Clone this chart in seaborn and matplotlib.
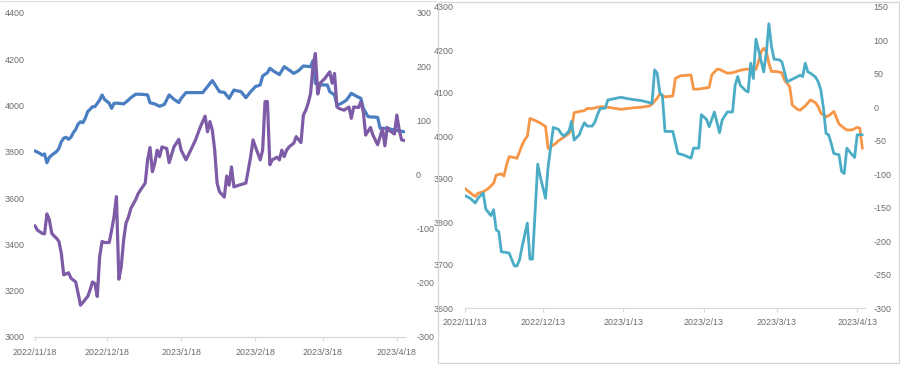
import matplotlib
matplotlib.use("Agg")
import matplotlib.pyplot as plt
import matplotlib.dates as mdates
from matplotlib.patches import Rectangle
from matplotlib.lines import Line2D
import seaborn as sns
import pandas as pd

# ---------------- data: left chart ----------------
left_price_dates = [
    "2022-11-18", "2022-11-20", "2022-11-21", "2022-11-22", "2022-11-23", "2022-11-24", "2022-11-25",
    "2022-11-27", "2022-11-28", "2022-11-29", "2022-11-30", "2022-12-01", "2022-12-02", "2022-12-03",
    "2022-12-04", "2022-12-05", "2022-12-06", "2022-12-07", "2022-12-08", "2022-12-09", "2022-12-10",
    "2022-12-11", "2022-12-12", "2022-12-13", "2022-12-15", "2022-12-16", "2022-12-17", "2022-12-19",
    "2022-12-20", "2022-12-21", "2022-12-23", "2022-12-25", "2022-12-27", "2022-12-28", "2022-12-30",
    "2023-01-01", "2023-01-04", "2023-01-05", "2023-01-07", "2023-01-09", "2023-01-11", "2023-01-13",
    "2023-01-15", "2023-01-17", "2023-01-18", "2023-01-20", "2023-01-27", "2023-01-29", "2023-01-31",
    "2023-02-03", "2023-02-05", "2023-02-07", "2023-02-09", "2023-02-12", "2023-02-14", "2023-02-16",
    "2023-02-18", "2023-02-20", "2023-02-21", "2023-02-23", "2023-02-24", "2023-02-26", "2023-02-28",
    "2023-03-02", "2023-03-04", "2023-03-06", "2023-03-08", "2023-03-10", "2023-03-13", "2023-03-14",
    "2023-03-15", "2023-03-18", "2023-03-20", "2023-03-21", "2023-03-23", "2023-03-24", "2023-03-26",
    "2023-03-28", "2023-03-30", "2023-04-01", "2023-04-03", "2023-04-04", "2023-04-06", "2023-04-10",
    "2023-04-11", "2023-04-14", "2023-04-17", "2023-04-21",
]
left_price = [
    3804, 3794, 3786, 3791, 3753, 3776, 3786,
    3801, 3815, 3844, 3859, 3863, 3854, 3863,
    3883, 3897, 3920, 3930, 3926, 3945, 3974,
    3984, 3995, 3995, 4024, 4046, 4027, 4010,
    3988, 4010, 4010, 4007, 4024, 4034, 4049,
    4049, 4046, 4012, 4007, 3997, 4005, 4046,
    4027, 4013, 4031, 4056, 4056, 4082, 4108,
    4060, 4057, 4031, 4067, 4060, 4034, 4060,
    4082, 4089, 4128, 4142, 4161, 4146, 4134,
    4168, 4154, 4139, 4151, 4171, 4168, 4194,
    4096, 4089, 4089, 4060, 4046, 4002, 4010,
    4024, 4053, 4041, 4031, 3988, 3952, 3949,
    3902, 3902, 3894, 3887,
]

left_spread_dates = [
    "2022-11-18", "2022-11-19", "2022-11-21", "2022-11-22", "2022-11-23", "2022-11-24", "2022-11-25",
    "2022-11-26", "2022-11-27", "2022-11-28", "2022-11-29", "2022-11-30", "2022-12-02", "2022-12-03",
    "2022-12-05", "2022-12-06", "2022-12-07", "2022-12-08", "2022-12-10", "2022-12-11", "2022-12-12",
    "2022-12-13", "2022-12-14", "2022-12-15", "2022-12-16", "2022-12-17", "2022-12-19", "2022-12-20",
    "2022-12-21", "2022-12-22", "2022-12-23", "2022-12-24", "2022-12-25", "2022-12-26", "2022-12-27",
    "2022-12-28", "2022-12-30", "2022-12-31", "2023-01-01", "2023-01-03", "2023-01-04", "2023-01-05",
    "2023-01-06", "2023-01-07", "2023-01-08", "2023-01-09", "2023-01-10", "2023-01-12", "2023-01-13",
    "2023-01-15", "2023-01-17", "2023-01-18", "2023-01-20", "2023-01-22", "2023-01-24", "2023-01-26",
    "2023-01-28", "2023-01-29", "2023-01-30", "2023-01-31", "2023-02-01", "2023-02-02", "2023-02-03",
    "2023-02-05", "2023-02-06", "2023-02-07", "2023-02-08", "2023-02-09", "2023-02-11", "2023-02-14",
    "2023-02-15", "2023-02-16", "2023-02-17", "2023-02-18", "2023-02-20", "2023-02-21", "2023-02-22",
    "2023-02-23", "2023-02-24", "2023-02-25", "2023-02-27", "2023-02-28", "2023-03-01", "2023-03-02",
    "2023-03-03", "2023-03-04", "2023-03-06", "2023-03-07", "2023-03-09", "2023-03-10", "2023-03-11",
    "2023-03-12", "2023-03-13", "2023-03-14", "2023-03-15", "2023-03-16", "2023-03-17", "2023-03-19",
    "2023-03-21", "2023-03-22", "2023-03-23", "2023-03-24", "2023-03-25", "2023-03-27", "2023-03-29",
    "2023-03-30", "2023-03-31", "2023-04-02", "2023-04-03", "2023-04-04", "2023-04-05", "2023-04-07",
    "2023-04-08", "2023-04-10", "2023-04-11", "2023-04-12", "2023-04-13", "2023-04-14", "2023-04-15",
    "2023-04-17", "2023-04-18", "2023-04-19", "2023-04-20", "2023-04-21",
]
left_spread = [
    -94, -102, -108, -109, -72, -83, -108,
    -113, -117, -123, -145, -185, -181, -191,
    -198, -219, -241, -236, -225, -213, -198,
    -201, -225, -151, -123, -125, -125, -102,
    -77, -40, -193, -170, -120, -89, -78,
    -62, -46, -35, -28, -15, 28, 51,
    6, 22, 46, 34, 52, 49, 23,
    52, 66, 46, 28, 46, 65, 89,
    109, 80, 99, 83, 46, -15, -31,
    -41, -2, -19, 15, -22, -19, -15,
    9, 34, 65, 52, 28, 46, 136,
    136, 19, 28, 33, 28, 46, 34,
    46, 52, 59, 71, 60, 111, 120,
    133, 151, 201, 225, 150, 170, 179,
    191, 170, 188, 126, 123, 120, 126,
    105, 126, 125, 136, 117, 74, 88,
    74, 56, 71, 86, 54, 88, 82,
    76, 111, 83, 65, 64,
]

left_x_ticks = ["2022-11-18", "2022-12-18", "2023-01-18", "2023-02-18", "2023-03-18", "2023-04-18"]
left_x_labels = ["2022/11/18", "2022/12/18", "2023/1/18", "2023/2/18", "2023/3/18", "2023/4/18"]
left_y1_ticks = [3000, 3200, 3400, 3600, 3800, 4000, 4200, 4400]
left_y2_ticks = [-300, -200, -100, 0, 100, 200, 300]

# ---------------- data: right chart ----------------
right_price_dates = [
    "2022-11-13", "2022-11-15", "2022-11-17", "2022-11-18", "2022-11-20", "2022-11-22", "2022-11-24",
    "2022-11-25", "2022-11-27", "2022-11-28", "2022-11-29", "2022-11-30", "2022-12-02", "2022-12-03",
    "2022-12-05", "2022-12-06", "2022-12-07", "2022-12-08", "2022-12-10", "2022-12-12", "2022-12-14",
    "2022-12-15", "2022-12-16", "2022-12-18", "2022-12-19", "2022-12-21", "2022-12-23", "2022-12-24",
    "2022-12-25", "2022-12-27", "2022-12-29", "2022-12-30", "2023-01-01", "2023-01-04", "2023-01-07",
    "2023-01-12", "2023-01-16", "2023-01-20", "2023-01-23", "2023-01-24", "2023-01-26", "2023-01-27",
    "2023-01-29", "2023-02-01", "2023-02-02", "2023-02-04", "2023-02-08", "2023-02-09", "2023-02-11",
    "2023-02-15", "2023-02-16", "2023-02-18", "2023-02-19", "2023-02-22", "2023-02-24", "2023-02-27",
    "2023-03-01", "2023-03-04", "2023-03-05", "2023-03-06", "2023-03-07", "2023-03-08", "2023-03-09",
    "2023-03-10", "2023-03-11", "2023-03-13", "2023-03-15", "2023-03-16", "2023-03-18", "2023-03-19",
    "2023-03-21", "2023-03-22", "2023-03-24", "2023-03-26", "2023-03-28", "2023-03-29", "2023-03-30",
    "2023-04-01", "2023-04-02", "2023-04-04", "2023-04-06", "2023-04-08", "2023-04-09", "2023-04-11",
    "2023-04-13", "2023-04-14", "2023-04-15",
]
right_price = [
    3878, 3868, 3859, 3867, 3870, 3878, 3890,
    3909, 3912, 3907, 3933, 3952, 3950, 3948,
    3979, 3991, 4000, 4041, 4036, 4030, 4022,
    3971, 3975, 3983, 3989, 3997, 4006, 4014,
    4054, 4057, 4059, 4064, 4064, 4068, 4067,
    4062, 4065, 4067, 4070, 4074, 4088, 4098,
    4091, 4093, 4134, 4140, 4142, 4109, 4109,
    4113, 4142, 4155, 4155, 4146, 4147, 4153,
    4155, 4157, 4155, 4173, 4196, 4204, 4196,
    4169, 4150, 4150, 4147, 4130, 4115, 4072,
    4062, 4060, 4070, 4084, 4077, 4068, 4053,
    4045, 4047, 4057, 4028, 4018, 4014, 4014,
    4020, 4018, 3971,
]

right_spread_dates = [
    "2022-11-13", "2022-11-15", "2022-11-17", "2022-11-18", "2022-11-20", "2022-11-21", "2022-11-22",
    "2022-11-23", "2022-11-24", "2022-11-25", "2022-11-26", "2022-11-27", "2022-11-29", "2022-11-30",
    "2022-12-02", "2022-12-03", "2022-12-04", "2022-12-05", "2022-12-07", "2022-12-08", "2022-12-09",
    "2022-12-11", "2022-12-12", "2022-12-14", "2022-12-15", "2022-12-16", "2022-12-17", "2022-12-19",
    "2022-12-20", "2022-12-21", "2022-12-23", "2022-12-24", "2022-12-25", "2022-12-27", "2022-12-28",
    "2022-12-29", "2022-12-30", "2023-01-01", "2023-01-02", "2023-01-03", "2023-01-04", "2023-01-06",
    "2023-01-07", "2023-01-12", "2023-01-16", "2023-01-20", "2023-01-24", "2023-01-25", "2023-01-26",
    "2023-01-27", "2023-01-28", "2023-01-29", "2023-02-01", "2023-02-03", "2023-02-05", "2023-02-08",
    "2023-02-09", "2023-02-11", "2023-02-12", "2023-02-14", "2023-02-15", "2023-02-17", "2023-02-19",
    "2023-02-20", "2023-02-22", "2023-02-24", "2023-02-25", "2023-02-26", "2023-02-27", "2023-03-01",
    "2023-03-02", "2023-03-03", "2023-03-04", "2023-03-05", "2023-03-06", "2023-03-08", "2023-03-09",
    "2023-03-10", "2023-03-11", "2023-03-12", "2023-03-14", "2023-03-15", "2023-03-17", "2023-03-19",
    "2023-03-21", "2023-03-22", "2023-03-23", "2023-03-24", "2023-03-25", "2023-03-26", "2023-03-28",
    "2023-03-29", "2023-03-30", "2023-03-31", "2023-04-01", "2023-04-02", "2023-04-03", "2023-04-04",
    "2023-04-06", "2023-04-07", "2023-04-08", "2023-04-09", "2023-04-10", "2023-04-12", "2023-04-13",
    "2023-04-15",
]
right_spread = [
    -132, -136, -143, -136, -128, -152, -157,
    -162, -153, -183, -186, -216, -217, -218,
    -237, -237, -228, -208, -173, -227, -227,
    -85, -104, -136, -89, -59, -30, -33,
    -39, -43, -36, -21, -49, -41, -31,
    -23, -28, -28, -22, -11, -2, -1,
    11, 15, 12, 10, 6, 56, 51,
    22, 17, -36, -36, -69, -71, -76,
    -61, -61, -11, -18, -29, -7, -38,
    -19, -7, -7, 33, 46, 33, 25,
    23, 66, 43, 102, 86, 53, 81,
    125, 91, 72, 71, 68, 38, 42,
    46, 48, 46, 66, 53, 51, 45,
    38, 26, -1, -39, -41, -54, -69,
    -71, -96, -99, -61, -66, -75, -41,
    -41,
]

right_x_ticks = ["2022-11-13", "2022-12-13", "2023-01-13", "2023-02-13", "2023-03-13", "2023-04-13"]
right_x_labels = ["2022/11/13", "2022/12/13", "2023/1/13", "2023/2/13", "2023/3/13", "2023/4/13"]
right_y1_ticks = [3600, 3700, 3800, 3900, 4000, 4100, 4200, 4300]
right_y2_ticks = [-300, -250, -200, -150, -100, -50, 0, 50, 100, 150]

# ---------------- styling ----------------
sns.set_theme(style="white")
plt.rcParams['font.family'] = ['Liberation Sans', 'DejaVu Sans']

C_BLUE = "#4A7EC2"
C_PURPLE = "#7D5BA6"
C_ORANGE = "#F79646"
C_TEAL = "#4BACC6"
C_TEXT = "#6b6b6b"
C_AXIS = "#d9d9d9"
FS = 6.4

W, H = 900, 365
fig = plt.figure(figsize=(W / 100, H / 100), dpi=100)
fig.patch.set_facecolor("white")


def frac_rect(x0, y_top, x1, y_bot):
    return [x0 / W, 1 - y_bot / H, (x1 - x0) / W, (y_bot - y_top) / H]


def df_of(dates, values):
    return pd.DataFrame({"date": pd.to_datetime(dates), "value": values})


def style_pair(ax, ax2, xticks, xlabels, xlim, y1, y1lim, y2, y2lim, pad_l, pad_r, pad_x):
    for a in (ax, ax2):
        for s in ("top", "left", "right", "bottom"):
            a.spines[s].set_visible(False)
        a.set_xlabel("")
        a.set_ylabel("")
        a.grid(False)
        a.set_facecolor("none")
    ax.spines["bottom"].set_visible(True)
    ax.spines["bottom"].set_color(C_AXIS)
    ax.spines["bottom"].set_linewidth(0.9)
    ax.set_xlim(xlim)
    ax.set_xticks(pd.to_datetime(xticks))
    ax.set_xticklabels(xlabels)
    ax.tick_params(axis="x", direction="out", length=3, width=0.8, color=C_AXIS,
                   labelsize=FS, labelcolor=C_TEXT, pad=pad_x, bottom=True)
    ax.set_ylim(y1lim)
    ax.set_yticks(y1)
    ax.set_yticklabels([str(v) for v in y1])
    ax.tick_params(axis="y", length=0, labelsize=FS, labelcolor=C_TEXT, pad=pad_l, left=True)
    ax2.set_ylim(y2lim)
    ax2.set_yticks(y2)
    ax2.set_yticklabels([str(v) for v in y2])
    ax2.tick_params(axis="y", length=0, labelsize=FS, labelcolor=C_TEXT, pad=pad_r, right=True)
    for lab in ax2.get_yticklabels():
        lab.set_horizontalalignment("left")


# ---------------- left chart ----------------
axL = fig.add_axes(frac_rect(34, 13, 405, 337))
axL2 = axL.twinx()
sns.lineplot(data=df_of(left_price_dates, left_price), x="date", y="value", ax=axL,
             color=C_BLUE, linewidth=2.3, sort=True)
sns.lineplot(data=df_of(left_spread_dates, left_spread), x="date", y="value", ax=axL2,
             color=C_PURPLE, linewidth=2.3, sort=True)
l0 = mdates.date2num(pd.Timestamp("2022-11-18")) - 0.4
l1 = mdates.date2num(pd.Timestamp("2023-04-21")) + 0.4
style_pair(axL, axL2, left_x_ticks, left_x_labels, (l0, l1),
           left_y1_ticks, (3000, 4400), left_y2_ticks, (-300, 300),
           pad_l=6.5, pad_r=8.0, pad_x=5.0)

# ---------------- right chart ----------------
axR = fig.add_axes(frac_rect(465, 7, 865, 308))
axR2 = axR.twinx()
sns.lineplot(data=df_of(right_price_dates, right_price), x="date", y="value", ax=axR,
             color=C_ORANGE, linewidth=2.0, sort=True)
sns.lineplot(data=df_of(right_spread_dates, right_spread), x="date", y="value", ax=axR2,
             color=C_TEAL, linewidth=2.0, sort=True)
r0 = mdates.date2num(pd.Timestamp("2022-11-13"))
r1 = mdates.date2num(pd.Timestamp("2023-04-16"))
style_pair(axR, axR2, right_x_ticks, right_x_labels, (r0, r1),
           right_y1_ticks, (3600, 4300), right_y2_ticks, (-300, 150),
           pad_l=8.0, pad_r=6.0, pad_x=4.5)

for a in (axL, axL2, axR, axR2):
    leg = a.get_legend()
    if leg is not None:
        leg.remove()

# chart frames
fig.add_artist(Rectangle((438 / W, 1 - 363 / H), (899 - 438) / W, (363 - 2) / H,
                         transform=fig.transFigure, fill=False, edgecolor="#d6d6d6", linewidth=0.9))
fig.add_artist(Line2D([0, 436 / W], [1 - 0.6 / H, 1 - 0.6 / H], transform=fig.transFigure,
                      color="#e2e2e2", linewidth=0.9))

fig.savefig("out.png", dpi=100, facecolor="white")
